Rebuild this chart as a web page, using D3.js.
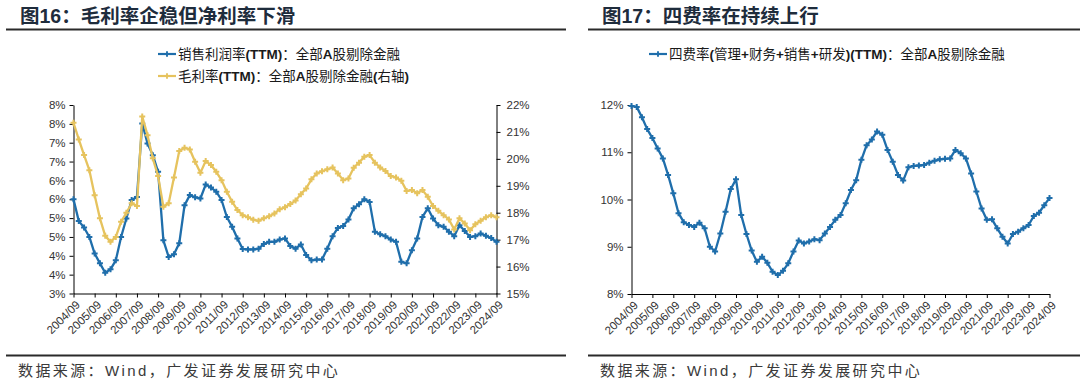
<!DOCTYPE html>
<html><head><meta charset="utf-8">
<script src="https://cdn.jsdelivr.net/npm/d3@7"></script>
<style>
html,body{margin:0;padding:0;background:#fff;}
svg{display:block;}
</style></head>
<body>
<svg id="chart" width="1080" height="384"></svg>
<script>
// ---------------- DATA ----------------
const yearTicks = ["2004/09","2005/09","2006/09","2007/09","2008/09","2009/09","2010/09","2011/09","2012/09","2013/09","2014/09","2015/09","2016/09","2017/09","2018/09","2019/09","2020/09","2021/09","2022/09","2023/09","2024/09"];

// net profit margin (TTM), %, left axis, quarterly 2004/09 .. 2024/09
const netMargin = [5.50,4.92,4.75,4.50,4.06,3.80,3.55,3.64,3.88,4.50,4.99,5.48,5.56,7.51,6.98,6.67,6.23,4.41,3.97,4.04,4.33,5.34,5.61,5.55,5.52,5.89,5.81,5.70,5.48,5.03,4.77,4.46,4.18,4.17,4.17,4.19,4.31,4.37,4.37,4.43,4.46,4.26,4.19,4.30,4.02,3.88,3.90,3.90,4.19,4.52,4.74,4.79,4.96,5.26,5.37,5.50,5.43,4.64,4.57,4.52,4.43,4.37,3.84,3.80,4.15,4.46,5.03,5.26,4.99,4.81,4.77,4.64,4.52,4.81,4.66,4.50,4.52,4.59,4.53,4.47,4.37];

// gross margin (TTM), %, right axis
const grossMargin = [21.34,20.72,20.14,19.58,18.65,17.79,17.14,16.92,17.10,17.66,18.00,18.35,18.25,21.57,20.88,20.02,19.36,18.22,18.35,19.31,20.29,20.41,20.35,19.89,19.48,19.92,19.77,19.52,19.21,18.78,18.41,18.10,17.91,17.83,17.74,17.70,17.79,17.87,17.97,18.13,18.20,18.32,18.45,18.69,18.90,19.24,19.46,19.54,19.61,19.68,19.46,19.21,19.27,19.67,19.86,20.08,20.14,19.86,19.68,19.55,19.36,19.31,19.19,18.81,18.84,18.72,18.84,18.59,18.25,18.07,17.91,17.75,17.38,17.79,17.60,17.35,17.57,17.70,17.83,17.91,17.83];

// four-expense ratio (TTM), %
const expenseRatio = [11.98,11.96,11.74,11.49,11.30,11.08,10.87,10.52,10.13,9.71,9.52,9.46,9.42,9.51,9.39,9.00,8.90,9.28,9.74,10.22,10.43,9.67,9.27,8.92,8.68,8.79,8.66,8.47,8.40,8.49,8.65,8.90,9.13,9.07,9.11,9.16,9.14,9.28,9.42,9.57,9.67,9.92,10.20,10.41,10.84,11.15,11.27,11.44,11.37,11.05,10.80,10.52,10.40,10.68,10.71,10.72,10.73,10.78,10.82,10.85,10.86,10.87,11.05,10.98,10.87,10.55,10.17,9.81,9.57,9.58,9.39,9.21,9.07,9.27,9.32,9.39,9.46,9.65,9.72,9.88,10.03];

const leftTicks = [3,3.5,4,4.5,5,5.5,6,6.5,7,7.5,8];
const leftTickLabels = ["3%","4%","4%","5%","5%","6%","6%","7%","7%","8%","8%"];
const rightTicks = [15,16,17,18,19,20,21,22];
const rightTickLabels = ["15%","16%","17%","18%","19%","20%","21%","22%"];
const expTicks = [8,9,10,11,12];
const expTickLabels = ["8%","9%","10%","11%","12%"];

const title1 = "图16：毛利率企稳但净利率下滑";
const title2 = "图17：四费率在持续上行";
const legend1 = "销售利润率(TTM)：全部A股剔除金融";
const legend2 = "毛利率(TTM)：全部A股剔除金融(右轴)";
const legend3 = "四费率(管理+财务+销售+研发)(TTM)：全部A股剔除金融";
const sourceText = "数据来源：Wind，广发证券发展研究中心";

// quarter categories 2004/09 .. 2024/09
const quarters = [];
for (let y = 2004; y <= 2024; y++) {
  ["03","06","09","12"].forEach(m => {
    const q = y + "/" + m;
    if (q >= "2004/09" && q <= "2024/09") quarters.push(q);
  });
}

// ---------------- STYLE ----------------
const BLUE = "#1f6eab";
const GOLD = "#e6c35e";
const CJK = "'Noto Sans CJK SC', 'Noto Sans', sans-serif";
const LAT = "'Liberation Sans', Arial, sans-serif";

const svg = d3.select("#chart");

function richText(sel, str, opts) {
  const runs = str.match(/[\x00-\x7F]+|[^\x00-\x7F]+/g);
  runs.forEach(r => {
    const ascii = /^[\x00-\x7F]+$/.test(r);
    sel.append("tspan")
      .attr("font-family", ascii ? LAT : CJK)
      .attr("font-weight", ascii ? (opts.latinWeight || "bold") : (opts.cjkWeight || "normal"))
      .text(r);
  });
}

// ---------------- FRAME / TITLES ----------------
function frame(x0, x1, titleX, title) {
  svg.append("line").attr("x1", x0).attr("x2", x1).attr("y1", 29.5).attr("y2", 29.5)
    .attr("stroke", "#2a2a2a").attr("stroke-width", 2);
  svg.append("line").attr("x1", x0).attr("x2", x1).attr("y1", 355.5).attr("y2", 355.5)
    .attr("stroke", "#2a2a2a").attr("stroke-width", 2);
  const t = svg.append("text").attr("x", titleX).attr("y", 23)
    .attr("font-size", 19.5).attr("fill", "#1e2c3c");
  richText(t, title, {latinWeight: "bold", cjkWeight: "bold"});
  const s = svg.append("text").attr("x", titleX - 2).attr("y", 376)
    .attr("font-size", 15).attr("fill", "#3a3a3a").attr("letter-spacing", 2.4);
  richText(s, sourceText, {latinWeight: "normal", cjkWeight: "normal"});
}
frame(6, 566, 20, title1);
frame(588, 1080, 602, title2);

function legendItem(x, y, color, label) {
  const g = svg.append("g");
  g.append("line").attr("x1", x).attr("x2", x + 18).attr("y1", y).attr("y2", y)
    .attr("stroke", color).attr("stroke-width", 2.2);
  g.append("path").attr("d", d3.symbol(d3.symbolCross, 18)())
    .attr("transform", `translate(${x + 9},${y})`).attr("fill", color);
  const t = g.append("text").attr("x", x + 20).attr("y", y).attr("dy", "0.36em")
    .attr("font-size", 13.5).attr("fill", "#1a1a1a");
  richText(t, label, {latinWeight: "bold", cjkWeight: "normal"});
}

function styleAxis(g) {
  g.selectAll(".domain").attr("stroke", "#000").attr("stroke-width", 1);
  g.selectAll(".tick line").attr("stroke", "#000");
  g.selectAll(".tick text").attr("font-family", LAT).attr("font-size", 11.5).attr("fill", "#333");
}

function xAxis(x, yPos) {
  const g = svg.append("g").attr("transform", `translate(0,${yPos})`)
    .call(d3.axisBottom(x).tickValues(yearTicks).tickSize(4).tickSizeOuter(0));
  styleAxis(g);
  g.selectAll(".tick text")
    .attr("x", 0).attr("y", 0).attr("dy", "0.35em")
    .attr("text-anchor", "end")
    .attr("transform", "translate(4,9) rotate(-45)");
  return g;
}

function series(x, y, data, color) {
  const pts = quarters.map((q, i) => [x(q), y(data[i])]);
  svg.append("path").datum(pts)
    .attr("d", d3.line())
    .attr("fill", "none").attr("stroke", color).attr("stroke-width", 2.3)
    .attr("stroke-linejoin", "round");
  svg.append("g").selectAll("path").data(pts).join("path")
    .attr("d", d3.symbol(d3.symbolCross, 20)())
    .attr("transform", d => `translate(${d[0]},${d[1]})`)
    .attr("fill", color);
}

// ---------------- LEFT CHART ----------------
{
  const x = d3.scalePoint().domain(quarters).range([73.5, 496.5]);
  const yL = d3.scaleLinear().domain([3, 8]).range([293.5, 105]);
  const yR = d3.scaleLinear().domain([15, 22]).range([293.5, 105]);

  const gl = svg.append("g").attr("transform", "translate(73.5,0)")
    .call(d3.axisLeft(yL).tickValues(leftTicks).tickFormat((d, i) => leftTickLabels[i]).tickSize(4).tickSizeOuter(0).tickPadding(4));
  styleAxis(gl);
  const gr = svg.append("g").attr("transform", "translate(496.5,0)")
    .call(d3.axisRight(yR).tickValues(rightTicks).tickFormat((d, i) => rightTickLabels[i]).tickSize(4).tickSizeOuter(0).tickPadding(6));
  styleAxis(gr);
  xAxis(x, 293.5);

  series(x, yL, netMargin, BLUE);
  series(x, yR, grossMargin, GOLD);

  legendItem(158, 54, BLUE, legend1);
  legendItem(158, 76, GOLD, legend2);
}

// ---------------- RIGHT CHART ----------------
{
  const x = d3.scalePoint().domain(quarters).range([631.5, 1049.5]);
  const y = d3.scaleLinear().domain([8, 12]).range([294, 105]);
  const gl = svg.append("g").attr("transform", "translate(631.5,0)")
    .call(d3.axisLeft(y).tickValues(expTicks).tickFormat((d, i) => expTickLabels[i]).tickSize(4).tickSizeOuter(0).tickPadding(4));
  styleAxis(gl);
  xAxis(x, 294);
  series(x, y, expenseRatio, BLUE);
  legendItem(649, 54, BLUE, legend3);
}
</script>
</body></html>
